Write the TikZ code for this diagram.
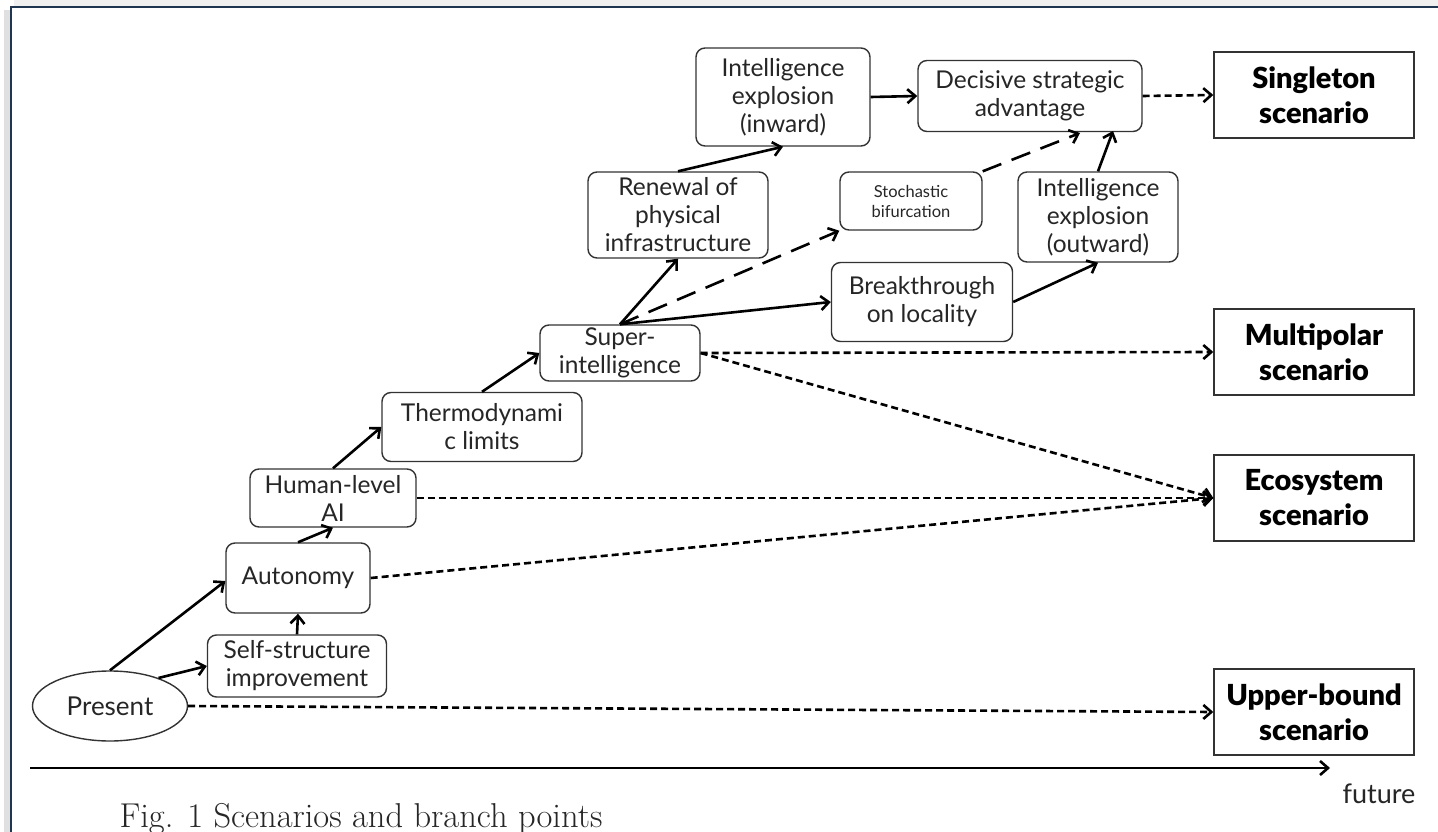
\documentclass[tikz,border=0pt]{standalone}
\usepackage{fontspec}
\setsansfont{Lato}
\newfontfamily\heavyfont{Lato Black}
\usetikzlibrary{arrows.meta,shapes.geometric}
\definecolor{navy}{HTML}{1F3550}
\definecolor{boxline}{HTML}{333333}
\begin{document}
\begin{tikzpicture}[x=1pt,y=-1pt,
  rbox/.style={draw=boxline,line width=1.4pt,rounded corners=9pt,align=center,
    font=\sffamily\fontsize{24.5}{28}\selectfont,text=black!85,inner sep=1pt},
  sbox/.style={draw=boxline,line width=1.4pt,align=center,
    font=\heavyfont\fontsize{29}{35}\selectfont,minimum width=200pt,minimum height=86pt},
  arr/.style={line width=2.6pt,-{Straight Barb[length=8pt,width=14pt,line width=2.6pt]}},
  darr/.style={arr,dash pattern=on 7pt off 4pt},
  larr/.style={arr,dash pattern=on 20pt off 11pt},
]
\useasboundingbox (0,0) rectangle (1438,832);
\fill[white] (0,0) rectangle (1438,832);
% frame with shadow
\fill[black!12] (4,10) rectangle (11,840);
\fill[black!6] (14,0) rectangle (1440,6);
\draw[navy,line width=2.5pt] (11,845) -- (11,7) -- (1445,7);

% nodes
\node[ellipse,draw=boxline,line width=1.4pt,minimum width=155pt,minimum height=70pt,
  font=\sffamily\fontsize{26}{30}\selectfont,text=black!85] (present) at (110,706) {Present};
\node[rbox,minimum width=179pt,minimum height=62pt] (self) at (297,666) {Self-structure\\improvement};
\node[rbox,minimum width=144pt,minimum height=70pt] (auto) at (298,578) {Autonomy};
\node[rbox,minimum width=166pt,minimum height=58pt] (human) at (333,498) {Human-level\\AI};
\node[rbox,minimum width=200pt,minimum height=69pt] (thermo) at (482,427) {Thermodynami\\c limits};
\node[rbox,minimum width=160pt,minimum height=56pt] (super) at (620,353) {Super-\\intelligence};
\node[rbox,minimum width=180pt,minimum height=86pt] (renew) at (678,215) {Renewal of\\physical\\infrastructure};
\node[rbox,minimum width=174pt,minimum height=98pt] (inward) at (783,97) {Intelligence\\explosion\\(inward)};
\node[rbox,minimum width=224pt,minimum height=71pt] (decisive) at (1030,96) {Decisive strategic\\advantage};
\node[rbox,minimum width=142pt,minimum height=58pt,font=\sffamily\fontsize{16.5}{20}\selectfont] (stoch) at (911,201) {Stochastic\\bifurcation};
\node[rbox,minimum width=160pt,minimum height=90pt] (outward) at (1098,217) {Intelligence\\explosion\\(outward)};
\node[rbox,minimum width=181pt,minimum height=79pt] (break) at (922,302) {Breakthrough\\on locality};

\node[sbox] (single) at (1314,95) {Singleton\\scenario};
\node[sbox] (multi) at (1314,352) {Multipolar\\scenario};
\node[sbox] (eco) at (1314,498) {Ecosystem\\scenario};
\node[sbox] (upper) at (1314,712) {Upper-bound\\scenario};

% axis
\coordinate (ax0) at (30,768);
\coordinate (ax1) at (1330,768);
\draw[arr] (ax0) -- (ax1);
\node[font=\sffamily\fontsize{27}{30}\selectfont,text=black!85] (future) at (1379,794) {future};
\node[anchor=west,font=\rmfamily\fontsize{34.5}{38}\selectfont,text=black!85] (cap) at (116,819) {Fig. 1 Scenarios and branch points};

% solid connectors
\draw[arr] (present.north) -- (auto.south west |- 0,581);
\draw[arr] (present.30) -- (self.west);
\draw[arr] (self.north) -- (auto.south);
\draw[arr] (auto.north) -- (human.south);
\draw[arr] (human.north) -- (thermo.west);
\draw[arr] (thermo.north) -- (super.west);
\draw[arr] (super.north) -- (renew.south);
\draw[arr] (super.north) -- (break.west);
\draw[arr] (renew.north) -- (inward.south);
\draw[arr] (inward.east) -- (decisive.west);
\draw[arr] (break.east) -- (outward.south);
\draw[arr] (outward.north) -- (1113,131);
% dashed
\draw[larr] (super.north) -- (stoch.south west);
\draw[larr] (stoch.north east) -- (1080,133);
\draw[darr] (decisive.east) -- (single.west);
\draw[darr] (super.east) -- (multi.west);
\draw[darr] (super.east) -- (eco.west);
\draw[darr] (human.east) -- (eco.west);
\draw[darr] (auto.east) -- (eco.west);
\draw[darr] (present.east) -- (upper.west);
\end{tikzpicture}
\end{document}
